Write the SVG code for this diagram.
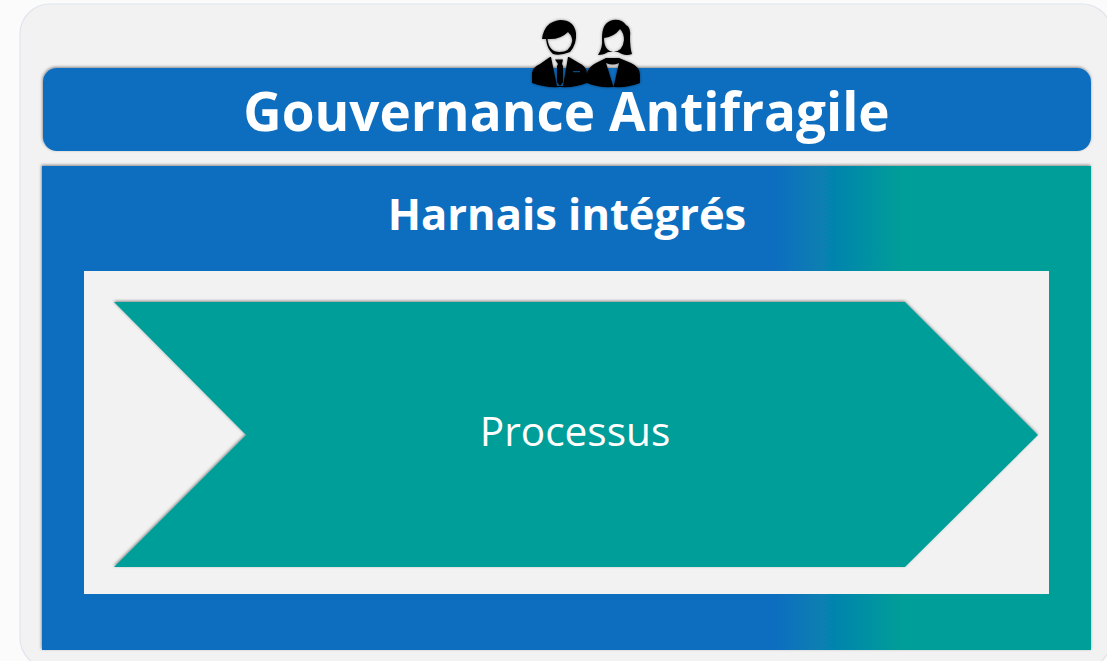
<svg xmlns="http://www.w3.org/2000/svg" width="1107" height="661" viewBox="0 0 1107 661">
<style>
.t{font-family:"Open Sans","Noto Sans","Liberation Sans",sans-serif;fill:#fff;text-anchor:middle}
.b{font-weight:700}
</style>
<defs>
<linearGradient id="g" gradientUnits="userSpaceOnUse" x1="42" y1="0" x2="1091" y2="0">
<stop offset="0.70" stop-color="#0b6ec0"/><stop offset="0.82" stop-color="#009e98"/><stop offset="1" stop-color="#009e98"/>
</linearGradient>
<filter id="s" x="-5%" y="-5%" width="110%" height="110%"><feDropShadow dx="-0.500" dy="-1" stdDeviation="1.800" flood-color="#000" flood-opacity="0.45"/></filter>
<filter id="is" x="-10%" y="-10%" width="120%" height="120%"><feGaussianBlur stdDeviation="0.400" result="a"/><feDropShadow dx="0" dy="0" stdDeviation="1.500" flood-color="#000" flood-opacity="0.45"/></filter>
</defs>
<rect width="1107" height="661" fill="#fbfbfb"/>
<g id="frame"><rect x="20" y="4" width="1092" height="664" rx="30" fill="#f2f2f2" stroke="#e0e5ec" stroke-width="1.200"/></g>
<g id="harness">
<rect x="42" y="166" width="1049" height="484" fill="url(#g)" filter="url(#s)"/>
<text class="t b" x="567" y="230" font-size="43.500">Harnais intégrés</text>
<rect x="84" y="271" width="965" height="323" fill="#f2f2f2"/>
</g>
<g id="process">
<polygon points="114,302 905,302 1038,435 905,567 114,567 246,435" fill="#009e98" filter="url(#s)"/>
<text class="t" x="575" y="446" font-size="40.600">Processus</text>
</g>
<g id="governance">
<rect x="43" y="68" width="1048" height="83" rx="14" fill="#0b6ec0" filter="url(#s)"/>
<text class="t b" x="566.500" y="131" font-size="53">Gouvernance Antifragile</text>
</g>
<g id="people" filter="url(#is)" fill="#000" fill-rule="evenodd">
<path d="M542,39 Q544,22 560,20 Q574,20 576,33 Q577,44 570,52 Q560,56 553,54 Q547,49 546,39Z M547.500,39 Q560,40 568,32 Q573,37 572,42 Q570,52 559.500,52 Q549,52 547.500,39Z"/>
<path d="M532,83 L532,73 Q533,67 540,64 L550,57 L551,57 L557,86 L563,86 L568,57 L569,57 L579,63 Q586,66 587,73 L587,83 Q575,88 560,87 Q545,88 532,83Z M573,71 h7 v1.300 h-7Z"/>
<path d="M555,59.500 h8 l-1,4.500 1,2 v16 l-3,4 -3,-4 v-16 l1,-2Z"/>
<path d="M598,55 Q603,48 602,38 Q602,22 613,20 Q622,19 626,25 Q631,27 630,37 Q630,48 632,54 Q627,56 622,54 L618,52 L608,52 Q604,55 598,55Z M604,38 Q614,37 620,29 Q624,33 624,40 Q623,51 613.500,52 Q604,51 604,38Z"/>
<path d="M587,83 L587,74 Q588,67 596,63 L606,58 L619,58 L631,63 Q640,67 640,75 L640,83 Q628,88 613.500,87 Q598,88 587,83Z M606,63 Q613,66 619,63 L613.500,87Z"/>
</g>
</svg>
